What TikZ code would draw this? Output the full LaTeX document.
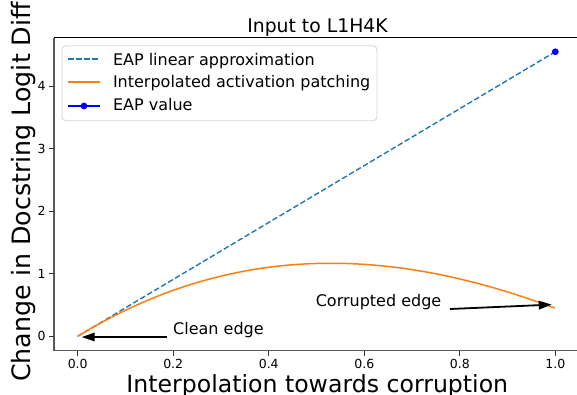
\documentclass[tikz,border=0pt]{standalone}
\usepackage{fontspec}
\setmainfont{DejaVu Sans}
\usetikzlibrary{arrows.meta}
\definecolor{mplblue}{HTML}{1F77B4}
\definecolor{mplorange}{HTML}{FF7F0E}
\definecolor{eapblue}{HTML}{0000FF}
\definecolor{legframe}{HTML}{D6D6D6}
\begin{document}
\begin{tikzpicture}[x=1pt,y=-1pt,
  txt/.style={inner sep=0pt, outer sep=0pt},
  ticklab/.style={txt, font=\fontsize{12.5}{15}\selectfont},
  legtxt/.style={txt, anchor=base west, font=\fontsize{16}{19}\selectfont},
  annot/.style={txt, anchor=base west, font=\fontsize{16}{19}\selectfont},
  spine/.style={line width=1.4pt, draw=black!65},
  topspine/.style={line width=1.1pt, draw=black},
  tickmark/.style={line width=0.9pt, draw=black!80},
  dashline/.style={draw=mplblue, line width=1.4pt, dash pattern=on 5.5pt off 2.6pt},
  curveline/.style={draw=mplorange, line width=1.5pt},
  eapline/.style={draw=eapblue, line width=1.5pt},
  arrowline/.style={draw=black, line width=1.8pt, -{Triangle[length=13pt,width=8.5pt]}}
]
\useasboundingbox (0,0) rectangle (577,394);
\fill[white] (0,0) rectangle (577,394);

% data coordinates
\begin{scope}[shift={(77.7,336.3)}, x=477.6pt, y=62.54pt]
  \coordinate (o) at (0,0);
  \coordinate (eap) at (1,4.55);
  \draw[dashline] (o) -- (eap);
  \draw[curveline] plot[domain=0:1, samples=120, smooth]
     (\x, {4.659*\x - 5.1076*\x*\x + 0.8966*\x*\x*\x});
\end{scope}
\fill[eapblue] (eap) circle[radius=3.4pt];

% spines
\draw[spine] (53.8,37.5) -- (53.8,350.5) -- (577,350.5);
\draw[topspine] (53.8,37.5) -- (577,37.5);

% x ticks
\foreach \t/\lab in {0/0.0, 0.2/0.2, 0.4/0.4, 0.6/0.6, 0.8/0.8, 1/1.0} {
  \pgfmathsetmacro{\xx}{77.7+477.6*\t}
  \draw[tickmark] (\xx,350.5) -- (\xx,355.5);
  \node[ticklab, anchor=north] (xt\lab) at (\xx,358.8) {\lab};
}
% y ticks
\foreach \v in {0,1,2,3,4} {
  \pgfmathsetmacro{\yy}{336.3-62.54*\v}
  \draw[tickmark] (53.8,\yy) -- (48.8,\yy);
  \node[ticklab, anchor=east] (yt\v) at (45.5,\yy) {\v};
}

% title and axis labels
\node[txt, anchor=base] (title) at (317.5,32.7) {\fontsize{18.8}{22}\selectfont Input to L1H4K};
\node[txt, anchor=base] (xlabel) at (317.3,392) {\fontsize{23.6}{28}\selectfont Interpolation towards corruption};
\node[txt, anchor=base, rotate=90] (ylabel) at (30.2,192) {\fontsize{25.3}{30}\selectfont Change in Docstring Logit Diff};

% legend
\draw[draw=legframe, fill=white, line width=0.9pt, rounded corners=4pt] (62,45.7) rectangle (377,120.7);
\coordinate (l1a) at (68,59);
\coordinate (l1b) at (100,59);
\draw[dashline] (l1a) -- (l1b);
\node[legtxt] (leg1) at (113,65) {EAP linear approximation};
\coordinate (l2a) at (68,82);
\coordinate (l2b) at (100,82);
\draw[curveline] (l2a) -- (l2b);
\node[legtxt] (leg2) at (113,87.7) {Interpolated activation patching};
\coordinate (l3a) at (68,106);
\coordinate (l3b) at (100,106);
\draw[eapline] (l3a) -- (l3b);
\fill[eapblue] (84,106) circle[radius=3.4pt];
\node[legtxt] (leg3) at (113,110.7) {EAP value};

% annotations
\node[annot] (clean) at (173.2,334) {Clean edge};
\coordinate (cleantail) at (166.7,337);
\coordinate (cleantip) at (81.7,337);
\draw[arrowline] (cleantail) -- (cleantip);
\node[annot] (corr) at (315.8,306) {Corrupted edge};
\coordinate (corrtail) at (450,309);
\coordinate (corrtip) at (551.7,304.6);
\draw[arrowline] (corrtail) -- (corrtip);
\end{tikzpicture}
\end{document}
